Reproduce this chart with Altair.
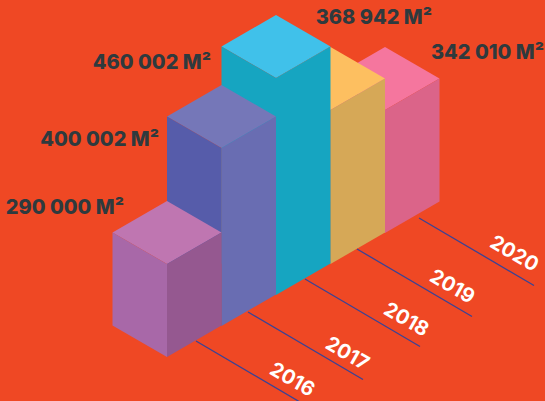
import altair as alt
import pandas as pd

# ---- values ----
years = ["2016", "2017", "2018", "2019", "2020"]
labels = ["290 000 M²", "400 002 M²", "460 002 M²", "368 942 M²", "342 010 M²"]
bar_heights = [93, 178, 217, 154, 123]

# ---- colours: top, left, right face ----
bg = "#EF4824"
face_colors = [
    ("#BF76B1", "#A868A8", "#955890"),
    ("#7577B8", "#565CAA", "#696DB2"),
    ("#40C1EA", "#16A5C1", "#16A5C1"),
    ("#FDBF60", "#D6A857", "#D6A857"),
    ("#F5769E", "#DB6489", "#DB6489"),
]
text_dark = "#2E3A3E"
axis_blue = "#3A4396"

# ---- isometric layout ----
W, H = 545, 401
origin = (167.0, 357.0)      # front-bottom corner of the first bar
step = (54.5, -31.0)         # from one bar to the next
half_w, half_h = 54.5, 31.5  # half-diagonals of the footprint
line_run = (115.0, 67.5)     # run of a year line
line_start = [(196, 341), (248, 312), (305, 279), (357, 249), (419, 218)]
label_right = [(124, 208), (159, 140), (211, 63), (432, 18), (544, 53)]
year_offset = [(96, 39), (99, 42), (101, 41), (95, 38), (95, 36)]

xs = alt.Scale(domain=[0, W], range=[0, W], nice=False, zero=False)
ys = alt.Scale(domain=[0, H], range=[0, H], nice=False, zero=False)
X = alt.X("x:Q", scale=xs, axis=None)
Y = alt.Y("y:Q", scale=ys, axis=None)
Y2 = alt.Y2("y2:Q")


def face(rows, color):
    df = pd.DataFrame(rows, columns=["x", "y", "y2"])
    return alt.Chart(df).mark_area(color=color, interpolate="linear", opacity=1).encode(X, Y, Y2)


layers = []
for i in range(4, -1, -1):
    fx = origin[0] + step[0] * i
    fy = origin[1] + step[1] * i
    h = bar_heights[i]
    top = fy - h
    c_top, c_left, c_right = face_colors[i]
    layers.append(face([(fx - half_w, top - half_h, top - half_h),
                        (fx, top - 2 * half_h, top),
                        (fx + half_w, top - half_h, top - half_h)], c_top))
    layers.append(face([(fx - half_w, top - half_h, fy - half_h),
                        (fx, top, fy)], c_left))
    layers.append(face([(fx, top, fy),
                        (fx + half_w, top - half_h, fy - half_h)], c_right))

lines = pd.DataFrame({
    "x": [p[0] for p in line_start],
    "y": [p[1] for p in line_start],
    "xe": [p[0] + line_run[0] for p in line_start],
    "ye": [p[1] + line_run[1] for p in line_start],
})
layers.append(alt.Chart(lines).mark_rule(color=axis_blue, strokeWidth=1.3).encode(
    X, Y, x2="xe:Q", y2="ye:Q"))

year_df = pd.DataFrame({
    "x": [p[0] + o[0] for p, o in zip(line_start, year_offset)],
    "y": [p[1] + o[1] for p, o in zip(line_start, year_offset)],
    "t": years,
})
layers.append(alt.Chart(year_df).mark_text(
    font="Inter", fontSize=20, fontWeight="bold", color="white", angle=30,
    align="center", baseline="middle").encode(X, Y, text="t:N"))

label_df = pd.DataFrame({
    "x": [p[0] for p in label_right],
    "y": [p[1] for p in label_right],
    "t": labels,
})
layers.append(alt.Chart(label_df).mark_text(
    font="Inter", fontSize=20, fontWeight=800, color=text_dark,
    align="right", baseline="middle").encode(X, Y, text="t:N"))

chart = alt.layer(*layers).properties(
    width=W, height=H, background=bg, padding=0,
    autosize=alt.AutoSizeParams(type="none"),
).configure_view(stroke=None)

chart.save("out.html", embed_options={
    "renderer": "svg", "actions": False,
    "defaultStyle": "html,body{margin:0;padding:0;overflow:hidden;background:%s}" % bg,
})
